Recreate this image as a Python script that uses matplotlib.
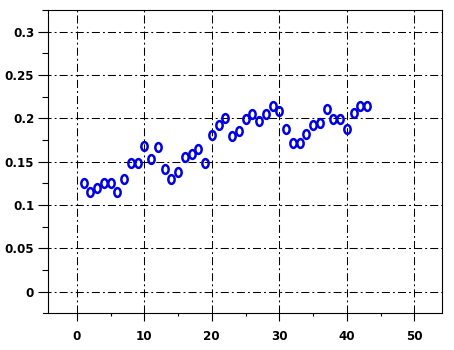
import matplotlib
matplotlib.use("Agg")
import matplotlib.pyplot as plt
import numpy as np
from matplotlib.path import Path

# data
x = list(range(1, 44))
y = [0.125, 0.1145, 0.120, 0.126, 0.126, 0.1145, 0.130, 0.149, 0.148, 0.168,
     0.153, 0.167, 0.142, 0.130, 0.138, 0.156, 0.159, 0.165, 0.148, 0.1805,
     0.192, 0.201, 0.180, 0.186, 0.1998, 0.2055, 0.197, 0.2047, 0.214, 0.2085,
     0.1874, 0.172, 0.172, 0.1825, 0.192, 0.195, 0.2105, 0.199, 0.199, 0.1874,
     0.2067, 0.214, 0.214]

xticks = [0, 10, 20, 30, 40, 50]
yticks = [0, 0.05, 0.1, 0.15, 0.2, 0.25, 0.3]
ylabels = ['0', '0.05', '0.1', '0.15', '0.2', '0.25', '0.3']

plt.rcParams['font.family'] = 'DejaVu Sans'
plt.rcParams['font.weight'] = 'bold'
plt.rcParams['lines.scale_dashes'] = False

# tall open ellipse marker
circ = Path.unit_circle()
ell = Path(circ.vertices * np.array([0.72, 1.0]), circ.codes)

fig = plt.figure(figsize=(4.54, 3.5), dpi=100)
ax = fig.add_axes([43/454, (350-313)/350, (442-43)/454, (313-10)/350])

ax.plot(x, y, linestyle='none', marker=ell, markersize=6.3,
        markerfacecolor='none', markeredgecolor='#0000e6', markeredgewidth=1.8,
        zorder=3)

ax.set_xlim(-5, 54.1)
ax.set_ylim(-0.0245, 0.3246)
ax.set_xticks(xticks)
ax.set_xticks([5, 15, 25, 35, 45], minor=True)
ax.set_yticks(yticks)
ax.set_yticklabels(ylabels)
ax.set_yticks([0.025, 0.075, 0.125, 0.175, 0.225, 0.275, 0.325], minor=True)

dash = (0, (5.8, 2.2, 1.4, 2.2))
ax.grid(True, which='major', color='black', linestyle=dash, linewidth=0.75)

for s in ax.spines.values():
    s.set_linewidth(0.8)
ax.spines['left'].set_position(('data', -4.25))
ax.spines['top'].set_bounds(-4.25, 54.1)

ax.tick_params(axis='both', which='major', labelsize=8.6, width=0.8, direction='out')
ax.tick_params(axis='y', which='major', length=7, pad=3)
ax.tick_params(axis='y', which='minor', length=4.5, width=0.8)
ax.tick_params(axis='x', which='major', length=6, pad=6)
ax.tick_params(axis='x', which='minor', length=2.5, width=0.8)

fig.savefig('out.png', dpi=100)
